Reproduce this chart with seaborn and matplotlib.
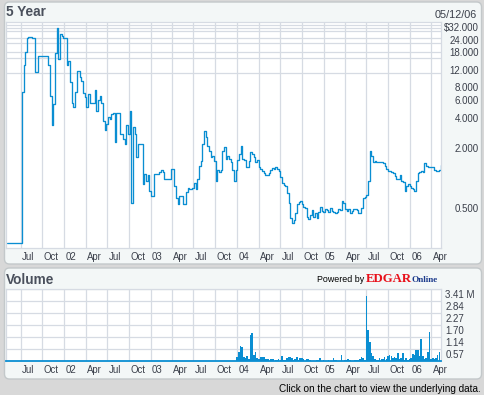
import matplotlib
matplotlib.use("Agg")
import pandas as pd
import matplotlib.pyplot as plt
import matplotlib.dates as mdates
import matplotlib.ticker as mticker
from matplotlib.patches import FancyBboxPatch
from matplotlib.transforms import IdentityTransform, ScaledTranslation
import seaborn as sns

# weekly closing price ($), Fridays from 2001-05-04 to 2006-05-12
price = [
    0.2, 0.2, 0.2, 0.2, 0.2, 0.2, 0.2, 0.2, 0.2, 6.5,
    12, 16.2, 22.4, 22.8, 22.8, 22.4, 22.4, 10.2, 10.2, 14.7,
    14.7, 14.7, 14.7, 14.7, 14.7, 12, 5.9, 3.0, 4.9, 15.6,
    27.8, 13.6, 24.4, 23.3, 22.4, 22.4, 12, 13.1, 8.1, 5.0,
    4.6, 6.5, 10.3, 10.3, 9.1, 8.3, 6.3, 5.7, 4.6, 6.1,
    5.0, 5.0, 5.0, 6.8, 4.2, 5.3, 5.9, 5.0, 3.33, 2.7,
    3.1, 3.6, 3.5, 3.9, 4.0, 2.06, 4.0, 4.0, 2.45, 2.45,
    2.2, 1.97, 3.0, 2.45, 4.2, 0.5, 2.9, 2.45, 1.44, 1.94,
    1.94, 1.94, 0.78, 0.99, 0.84, 0.95, 0.67, 0.59, 0.59, 0.99,
    0.99, 0.99, 1.03, 1.07, 1.03, 0.88, 0.88, 0.88, 0.88, 1.09,
    1.09, 0.75, 0.57, 0.49, 0.59, 0.59, 0.49, 0.49, 0.65, 0.72,
    0.70, 0.69, 0.72, 0.80, 0.69, 0.88, 1.19, 1.33, 1.97, 2.65,
    2.27, 1.85, 1.68, 1.45, 1.50, 1.33, 0.84, 1.07, 1.02, 1.07,
    1.68, 1.82, 1.40, 1.50, 1.40, 1.30, 1.07, 0.84, 1.07, 1.35,
    1.57, 1.88, 1.40, 1.35, 1.15, 1.15, 1.33, 1.63, 1.57, 1.45,
    1.30, 1.35, 1.15, 1.10, 1.05, 1.00, 0.97, 0.95, 1.00, 1.07,
    1.12, 1.10, 1.14, 1.10, 1.05, 0.92, 0.80, 0.76, 0.74, 0.63,
    0.50, 0.36, 0.32, 0.34, 0.40, 0.49, 0.52, 0.53, 0.49, 0.46,
    0.45, 0.37, 0.35, 0.38, 0.43, 0.37, 0.40, 0.36, 0.41, 0.46,
    0.42, 0.41, 0.44, 0.43, 0.41, 0.45, 0.42, 0.41, 0.40, 0.41,
    0.44, 0.43, 0.53, 0.50, 0.44, 0.42, 0.44, 0.40, 0.42, 0.44,
    0.44, 0.43, 0.40, 0.40, 0.45, 0.57, 0.58, 0.60, 0.84, 1.68,
    1.50, 1.30, 1.32, 1.28, 1.30, 1.28, 1.28, 1.26, 1.19, 1.10,
    1.06, 1.04, 1.02, 1.00, 0.93, 0.88, 0.88, 0.95, 0.84, 0.81,
    0.67, 0.75, 0.78, 0.75, 0.72, 0.70, 0.66, 0.84, 1.00, 1.03,
    1.06, 1.03, 1.25, 1.17, 1.14, 1.14, 1.14, 1.14, 1.08, 1.06,
    1.04, 1.07, 1.22,
]
price_dates = pd.date_range("2001-05-04", periods=len(price), freq="7D")

# weekly volume (millions of shares), from 2004-01-02
volume = [
    0.22, 0.45, 0.72, 0.70, 0.20, 0.17, 0.27, 0.10, 1.25, 1.34,
    0.30, 0.46, 0.14, 0.10, 0.20, 0.20, 0.20, 0.10, 0.10, 0.10,
    0.10, 0.10, 0.10, 0.06, 0.06, 0.10, 0.05, 0.25, 0.05, 0.08,
    0.14, 0.20, 0.20, 0.17, 0.08, 0.13, 0.20, 0.08, 0.15, 0.15,
    0.10, 0.03, 0.10, 0.10, 0.04, 0.02, 0.02, 0.00, 0.08, 0.05,
    0.17, 0.02, 0.06, 0.02, 0.02, 0.05, 0.00, 0.02, 0.15, 0.04,
    0.08, 0.02, 0.00, 0.30, 0.03, 0.05, 0.05, 0.10, 0.04, 0.00,
    0.03, 0.05, 0.05, 0.06, 0.10, 0.20, 0.14, 0.06, 3.09, 1.48,
    0.93, 0.38, 0.27, 0.12, 0.08, 0.08, 0.15, 0.10, 0.10, 0.20,
    0.10, 0.23, 0.30, 0.23, 0.15, 0.20, 0.17, 0.38, 0.10, 0.17,
    0.38, 0.08, 0.17, 0.06, 0.12, 0.17, 0.33, 0.30, 0.54, 0.54,
    0.27, 1.06, 0.27, 0.10, 0.17, 0.46, 1.39, 0.10, 0.17, 0.10,
    0.15, 0.30, 0.46,
]
volume_dates = pd.date_range("2004-01-02", periods=len(volume), freq="7D")

price_ticks = [0.5, 2, 4, 6, 8, 12, 18, 24, 32]
price_labels = ["0.500", "2.000", "4.000", "6.000", "8.000", "12.000",
                "18.000", "24.000", "$32.000"]
price_grid = [0.5, 2, 4, 6, 8, 10, 12, 14, 16, 18, 20, 22, 24, 26, 28, 30, 32]
vol_ticks = [0.568, 1.137, 1.705, 2.273, 2.842, 3.41]
vol_labels = ["0.57", "1.14", "1.70", "2.27", "2.84", "3.41 M"]

x_start, x_end = "2001-04-30", "2006-05-12"

BLUE = "#0a8ed2"
GRID = "#d6dbe3"
BG = "#d8d8d8"
PANEL = "#f3f7f7"
TXT = "#3a3f4a"

sns.set_style("white")
plt.rcParams["font.family"] = ["Liberation Sans", "DejaVu Sans"]

W, H = 484, 395
fig = plt.figure(figsize=(W / 100, H / 100), dpi=100, facecolor=BG)

# rounded panels behind the charts (pixel coordinates)
for y0, h in [(131, 262), (16, 111)]:
    fig.patches.append(FancyBboxPatch((4.5, y0), 477, h,
                                      boxstyle="round,pad=0,rounding_size=5",
                                      transform=IdentityTransform(),
                                      facecolor=PANEL, edgecolor="#c3c8ca",
                                      linewidth=1.0, zorder=-1))

ax1 = fig.add_axes([6 / W, 1 - 248 / H, 435 / W, 226 / H])
ax2 = fig.add_axes([6 / W, 1 - 361.3 / H, 435 / W, 72 / H])

px = mdates.date2num(price_dates)
vx = mdates.date2num(volume_dates)

sns.lineplot(x=px, y=price, ax=ax1, color=BLUE, linewidth=0.95,
             drawstyle="steps-post", errorbar=None)
sns.barplot(x=vx, y=volume, ax=ax2, native_scale=True, orient="x",
            color=BLUE, saturation=1, width=0.95, errorbar=None, linewidth=0)

xlim = (mdates.date2num(pd.Timestamp(x_start)), mdates.date2num(pd.Timestamp(x_end)))


def month_label(x, pos):
    d = mdates.num2date(x)
    return d.strftime("%y") if d.month == 1 else d.strftime("%b")


shift_right = ScaledTranslation(1.5 / 100, 0, fig.dpi_scale_trans)
shift_down = ScaledTranslation(0, -5 / 100, fig.dpi_scale_trans)

for ax in (ax1, ax2):
    ax.set_facecolor("white")
    ax.set_xlim(*xlim)
    ax.xaxis.set_major_locator(mdates.MonthLocator(bymonth=(1, 4, 7, 10)))
    ax.xaxis.set_major_formatter(mticker.FuncFormatter(month_label))
    ax.grid(which="major", axis="x", color=GRID, linewidth=0.9)
    ax.tick_params(axis="x", length=0, pad=3, labelsize=6.9, labelcolor=TXT)
    ax.set_xlabel("")
    ax.set_ylabel("")
    for s in ax.spines.values():
        s.set_color(GRID)
        s.set_linewidth(0.9)
    ax.set_axisbelow(True)

# price axis
ax1.set_yscale("log", base=2)
ax1.set_ylim(0.18, 32)
ax1.yaxis.tick_right()
ax1.yaxis.set_major_locator(mticker.FixedLocator(price_ticks))
ax1.yaxis.set_major_formatter(mticker.FixedFormatter(price_labels))
ax1.yaxis.set_minor_locator(mticker.FixedLocator(price_grid))
ax1.yaxis.set_minor_formatter(mticker.NullFormatter())
ax1.grid(which="minor", axis="y", color=GRID, linewidth=0.9)
ax1.grid(which="major", axis="y", visible=False)
ax1.tick_params(axis="y", which="both", length=0, pad=27.4, labelsize=7,
                labelcolor=TXT)

# volume axis
ax2.set_ylim(0, 3.41)
ax2.yaxis.tick_right()
ax2.yaxis.set_major_locator(mticker.FixedLocator(vol_ticks))
ax2.yaxis.set_major_formatter(mticker.FixedFormatter(vol_labels))
ax2.grid(which="major", axis="y", color=GRID, linewidth=0.9)
ax2.tick_params(axis="y", length=0, pad=3, labelsize=7, labelcolor=TXT)
ax2.spines["bottom"].set_color(BLUE)
ax2.spines["bottom"].set_linewidth(1.3)

for ax in (ax1, ax2):
    for lab in ax.get_xticklabels():
        lab.set_horizontalalignment("left")
        lab.set_transform(lab.get_transform() + shift_right)
    for lab in ax.get_yticklabels():
        lab.set_transform(lab.get_transform() + shift_down)
for lab in ax1.get_yticklabels():
    lab.set_horizontalalignment("right")

# titles and captions
fig.text(6 / W, 1 - 12.5 / H, "5 Year", fontsize=9.8, fontweight="bold",
         color="#4a505c", va="center", ha="left")
fig.text(477 / W, 1 - 14.5 / H, "05/12/06", fontsize=7.8, color=TXT,
         va="center", ha="right")
fig.text(6 / W, 1 - 280 / H, "Volume", fontsize=9.8, fontweight="bold",
         color="#4a505c", va="center", ha="left")
fig.text(317 / W, 1 - 279.5 / H, "Powered by", fontsize=6.4, color="black",
         va="center", ha="left")
fig.text(366 / W, 1 - 278.5 / H, "EDGAR", fontsize=9.2, color="#e8101a",
         fontweight="bold", family=["Liberation Serif", "DejaVu Serif"],
         va="center", ha="left")
fig.text(412 / W, 1 - 280.5 / H, "Online", fontsize=6.6, color="#1c3b8c",
         fontweight="bold", family=["Liberation Serif", "DejaVu Serif"],
         va="center", ha="left")
fig.text(481 / W, 1 - 388.5 / H, "Click on the chart to view the underlying data.",
         fontsize=7.2, color="black", va="center", ha="right")

fig.savefig("out.png", dpi=100, facecolor=BG)
